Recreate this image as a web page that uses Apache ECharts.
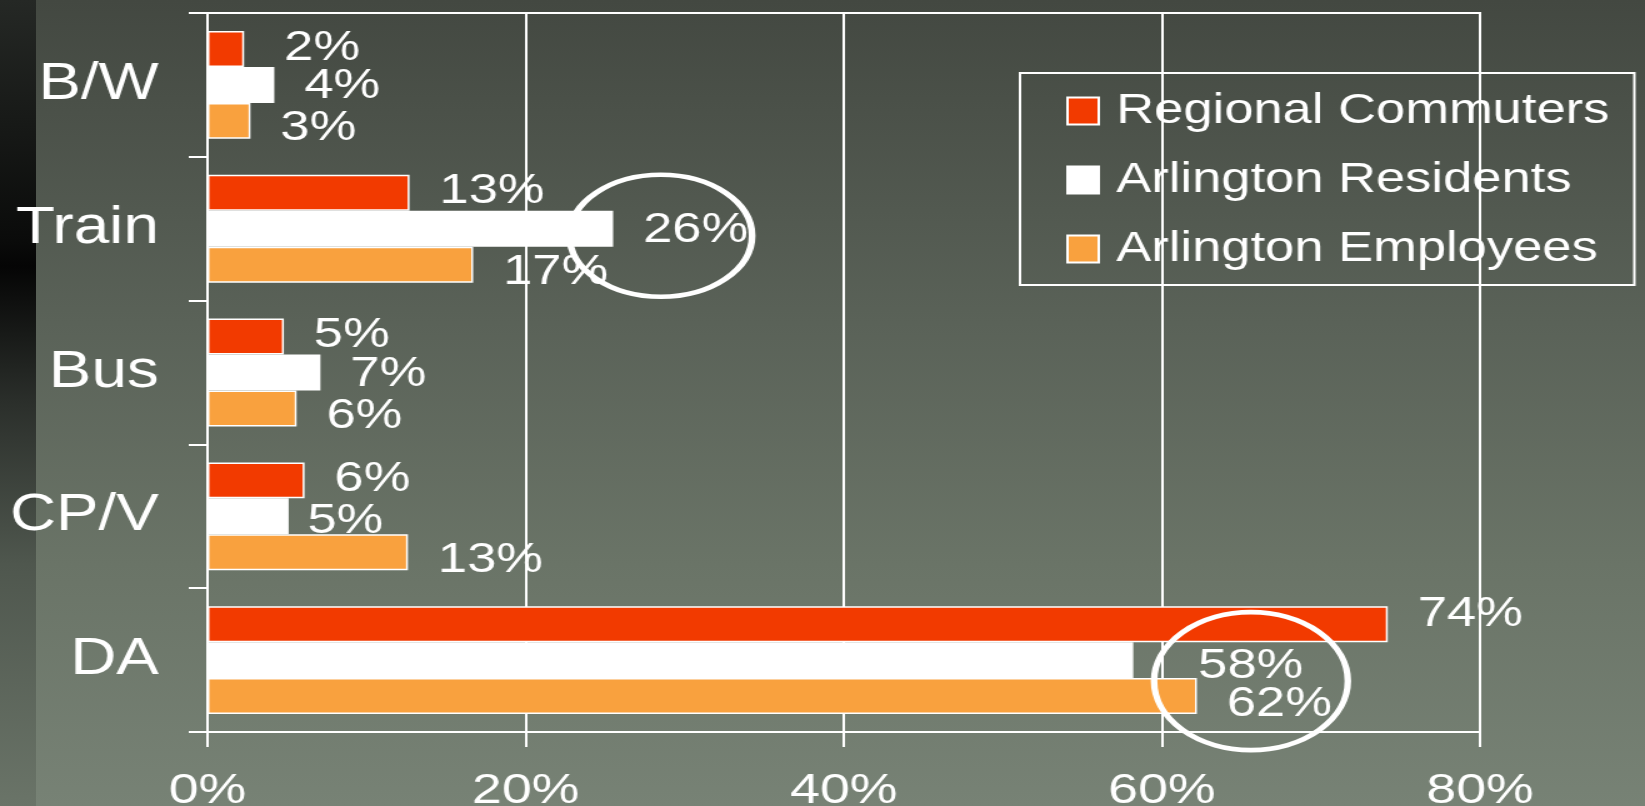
<!DOCTYPE html>
<html>
<head>
<meta charset="utf-8">
<title>Commute mode share</title>
<script src="https://cdn.jsdelivr.net/npm/echarts@6/dist/echarts.min.js"></script>
<style>
    html, body {
        margin: 0;
        padding: 0;
        overflow: hidden;
    }
    body {
        width: 1645px;
        height: 806px;
        background:
            linear-gradient(to bottom, #252825 0%, #0a0b0a 30%, #050505 33%, #2b2f2b 50%, #4f574e 70%, #6a7468 100%) 0 0 / 36px 100% no-repeat,
            linear-gradient(to bottom, #434841 0%, #5a6258 40%, #6a7467 70%, #778275 100%);
    }
    /* the slide was stretched sideways, so draw narrow and widen */
    #chart {
        width: 1316px;
        height: 806px;
        transform: scaleX(1.25);
        transform-origin: 0 0;
    }
</style>
</head>
<body>
<div id="chart"></div>
<script>
const categories = ['B/W', 'Train', 'Bus', 'CP/V', 'DA'];
const seriesNames = ['Regional Commuters', 'Arlington Residents', 'Arlington Employees'];
const regionalCommuters = [2.3, 12.7, 4.8, 6.1, 74.2];
const arlingtonResidents = [4.2, 25.5, 7.1, 5.1, 58.2];
const arlingtonEmployees = [2.7, 16.7, 5.6, 12.6, 62.2];
const xTicks = [0, 20, 40, 60, 80];
// circled call-outs: [value %, category]
const callouts = [[28.5, 'Train'], [65.6, 'DA']];

const seriesValues = [regionalCommuters, arlingtonResidents, arlingtonEmployees];
const seriesColors = ['#f23a00', '#ffffff', '#f9a13e'];
const font = 'Liberation Sans, Arial, sans-serif';

// label placement tweaks (the original labels were nudged by hand)
const labelShift = [[0, -1], [0, 2], [0, 8]];
const labelNudge = { '0-0': [8, 0], '0-4': [0, -9], '1-3': [-9, 3], '1-4': [28, 4] };
const calloutShape = [
    { size: [146, 122], offset: [0, 7] },
    { size: [155, 138], offset: [0, 21] }
];

const chart = echarts.init(document.getElementById('chart'));

const barSeries = seriesNames.map((name, i) => ({
    name: name,
    type: 'bar',
    barGap: '0%',
    barCategoryGap: '25%',
    data: seriesValues[i].map((v, j) => {
        const n = labelNudge[i + '-' + j] || [0, 0];
        return {
            value: v,
            label: { offset: [labelShift[i][0] + n[0], labelShift[i][1] + n[1]] }
        };
    }),
    itemStyle: {
        color: seriesColors[i],
        borderColor: '#ffffff',
        borderWidth: 1.5
    },
    label: {
        show: true,
        position: 'right',
        distance: 24,
        color: '#ffffff',
        fontFamily: font,
        fontSize: 42,
        formatter: p => Math.round(p.value) + '%'
    },
    emphasis: { disabled: true }
}));

const option = {
    backgroundColor: 'transparent',
    animation: false,
    grid: {
        left: 166,
        right: 132,
        top: 13,
        bottom: 74,
        outerBoundsMode: 'none',
        containLabel: false,
        show: true,
        borderColor: '#ffffff',
        borderWidth: 2,
        backgroundColor: 'transparent'
    },
    legend: {
        data: seriesNames,
        orient: 'vertical',
        left: 816,
        top: 73,
        padding: [17, 20, 15, 37],
        itemGap: 27,
        itemWidth: 25,
        itemHeight: 27,
        borderColor: '#ffffff',
        borderWidth: 2,
        icon: 'rect',
        textStyle: {
            color: '#ffffff',
            fontFamily: font,
            fontSize: 42,
            padding: [0, 0, 0, 9]
        }
    },
    xAxis: {
        type: 'value',
        min: xTicks[0],
        max: xTicks[xTicks.length - 1],
        interval: xTicks[1] - xTicks[0],
        axisLine: { show: true, lineStyle: { color: '#ffffff', width: 2 } },
        axisTick: { show: true, length: 15, lineStyle: { color: '#ffffff', width: 2 } },
        splitLine: { show: true, lineStyle: { color: '#ffffff', width: 2 } },
        axisLabel: {
            color: '#ffffff',
            fontFamily: font,
            fontSize: 43,
            margin: 38,
            formatter: '{value}%'
        }
    },
    yAxis: {
        type: 'category',
        inverse: true,
        data: categories,
        axisLine: { show: true, lineStyle: { color: '#ffffff', width: 2 } },
        axisTick: { show: true, length: 15, lineStyle: { color: '#ffffff', width: 2 } },
        axisLabel: {
            color: '#ffffff',
            fontFamily: font,
            fontSize: 51,
            margin: 39
        }
    },
    series: barSeries.concat([{
        type: 'scatter',
        silent: true,
        z: 5,
        symbol: 'circle',
        data: callouts.map((c, k) => ({
            value: c,
            symbolSize: calloutShape[k].size,
            symbolOffset: calloutShape[k].offset
        })),
        itemStyle: {
            color: 'rgba(0,0,0,0)',
            borderColor: '#ffffff',
            borderWidth: 5,
            opacity: 1
        }
    }])
};

chart.setOption(option);
</script>
</body>
</html>
